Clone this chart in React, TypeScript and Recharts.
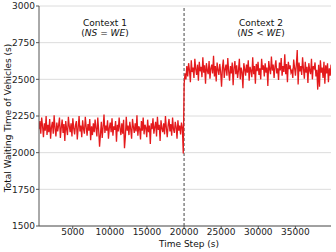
import React from 'react';
import { LineChart, Line, XAxis, YAxis, CartesianGrid, ReferenceLine } from 'recharts';

const stepStart = 450;
const stepSize = 120;

const context1Values = [
  2160, 2215, 2130, 2240, 2180, 2105, 2200, 2150, 2250, 2120,
  2190, 2140, 2230, 2095, 2175, 2210, 2130, 2255, 2165, 2110,
  2205, 2145, 2185, 2240, 2100, 2170, 2225, 2135, 2195, 2080,
  2215, 2160, 2120, 2245, 2180, 2140, 2200, 2110, 2235, 2165,
  2125, 2190, 2215, 2090, 2170, 2250, 2145, 2185, 2105, 2220,
  2160, 2130, 2245, 2175, 2115, 2195, 2150, 2230, 2085, 2180,
  2120, 2200, 2140, 2225, 2165, 2110, 2240, 2155, 2040, 2125,
  2210, 2100, 2175, 2260, 2135, 2185, 2150, 2220, 2095, 2170,
  2205, 2140, 2235, 2115, 2180, 2155, 2215, 2075, 2190, 2145,
  2240, 2165, 2120, 2200, 2130, 2225, 2030, 2110, 2245, 2150,
  2185, 2120, 2210, 2160, 2095, 2230, 2175, 2135, 2200, 2145,
  2255, 2115, 2180, 2165, 2090, 2215, 2150, 2240, 2125, 2190,
  2170, 2105, 2225, 2140, 2185, 2060, 2200, 2160, 2235, 2130,
  2175, 2210, 2110, 2245, 2155, 2190, 2080, 2220, 2165, 2140,
  2200, 2125, 2250, 2170, 2105, 2185, 2230, 2145, 2195, 2115,
  2240, 2160, 2135, 2210, 2175, 2095, 2220, 2150, 2185, 2125,
  2205, 2170, 1995,
];

const context2Values = [
  2470, 2540, 2500, 2590, 2520, 2610, 2560, 2480, 2630, 2550,
  2580, 2510, 2640, 2570, 2530, 2600, 2490, 2620, 2555, 2585,
  2515, 2650, 2545, 2595, 2470, 2610, 2560, 2535, 2625, 2505,
  2575, 2600, 2540, 2660, 2520, 2590, 2485, 2615, 2565, 2530,
  2605, 2550, 2450, 2580, 2635, 2510, 2570, 2600, 2525, 2645,
  2555, 2490, 2590, 2540, 2615, 2460, 2575, 2625, 2535, 2595,
  2510, 2560, 2640, 2500, 2580, 2550, 2440, 2610, 2570, 2525,
  2600, 2545, 2630, 2490, 2585, 2560, 2515, 2650, 2535, 2590,
  2470, 2605, 2555, 2620, 2530, 2575, 2500, 2640, 2565, 2595,
  2520, 2610, 2545, 2580, 2455, 2625, 2570, 2535, 2655, 2560,
  2600, 2510, 2585, 2630, 2540, 2575, 2495, 2615, 2560, 2645,
  2525, 2590, 2550, 2670, 2535, 2605, 2480, 2620, 2570, 2595,
  2545, 2560, 2510, 2635, 2580, 2525, 2600, 2700, 2465, 2615,
  2555, 2590, 2530, 2650, 2570, 2505, 2620, 2545, 2585, 2475,
  2610, 2560, 2535, 2640, 2500, 2590, 2575, 2615, 2520, 2565,
  2430, 2600, 2450, 2630, 2545, 2580, 2510, 2620, 2470, 2595,
  2540, 2610, 2480, 2575, 2525, 2600,
];

const xTicks = [5000, 10000, 15000, 20000, 25000, 30000, 35000];
const yTicks = [1500, 1750, 2000, 2250, 2500, 2750, 3000];
const contextSwitch = 20000;

const data = [...context1Values, ...context2Values].map((v, i) => ({
  t: stepStart + i * stepSize,
  v,
}));

const font = 'DejaVu Sans, sans-serif';

export default function App() {
  const tickStyle = { fontSize: 9, fill: '#222', fontFamily: font };
  return (
    <div style={{ position: 'absolute', left: 0, top: 0, width: 336, height: 252, background: '#fff', fontFamily: font }}>
      <LineChart width={336} height={252} data={data} margin={{ top: 6, right: 5, left: 0, bottom: 0 }}>
        <CartesianGrid vertical={false} stroke="#dcdcdc" strokeWidth={1} />
        <XAxis
          dataKey="t"
          type="number"
          domain={[450, 39800]}
          ticks={xTicks}
          height={26}
          tickSize={3}
          tickMargin={0}
          tick={tickStyle}
          stroke="#555"
          allowDataOverflow
        />
        <YAxis
          type="number"
          domain={[1500, 3000]}
          ticks={yTicks}
          width={39}
          tickSize={3}
          tickMargin={1}
          tick={tickStyle}
          stroke="#555"
          interval={0}
        />
        <ReferenceLine x={contextSwitch} stroke="#666" strokeDasharray="3 2" strokeWidth={1.2} />
        <Line
          dataKey="v"
          stroke="#e41a1c"
          strokeWidth={1.3}
          dot={false}
          isAnimationActive={false}
        />
      </LineChart>
      <div style={{ position: 'absolute', left: 0, top: 0, width: 336, height: 252, pointerEvents: 'none', fontSize: 9, color: '#111' }}>
        <div style={{ position: 'absolute', left: 55, width: 100, top: 18, textAlign: 'center', lineHeight: '10px' }}>
          Context 1<br />(<i>NS</i> = <i>WE</i>)
        </div>
        <div style={{ position: 'absolute', left: 211, width: 100, top: 18, textAlign: 'center', lineHeight: '10px' }}>
          Context 2<br />(<i>NS</i> &lt; <i>WE</i>)
        </div>
        <div style={{ position: 'absolute', left: 139, width: 100, top: 239, textAlign: 'center', lineHeight: '10px' }}>
          Time Step (s)
        </div>
        <div
          style={{
            position: 'absolute',
            left: 8,
            top: 118,
            width: 200,
            lineHeight: '10px',
            textAlign: 'center',
            transform: 'translate(-50%, -50%) rotate(-90deg)',
            whiteSpace: 'nowrap',
          }}
        >
          Total Waiting Time of Vehicles (s)
        </div>
      </div>
    </div>
  );
}
